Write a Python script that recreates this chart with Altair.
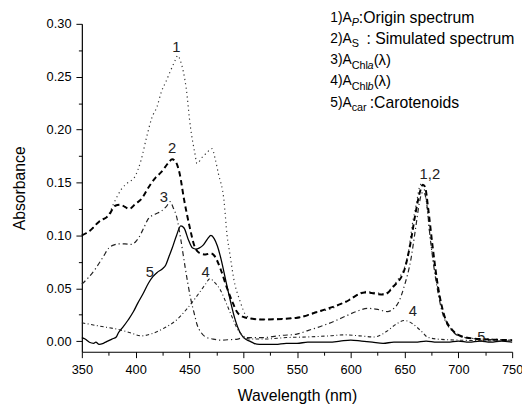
import altair as alt
import pandas as pd

# ---- data ----
wl_origin = [350, 357, 366, 375, 380, 387, 393, 399, 405, 410, 415, 420, 424, 428, 433, 437, 439, 442,
             447, 451, 455, 457, 462, 466, 471, 474, 477, 482, 485, 488, 491, 497, 503, 510, 518, 530,
             549, 570, 580, 595, 605, 613, 622, 631, 640, 645, 650, 654, 657, 661, 664, 666, 668, 670,
             674, 680, 686, 690, 694, 700, 705, 710, 720, 730, 740, 750]
ab_origin = [0.100, 0.104, 0.113, 0.120, 0.131, 0.144, 0.150, 0.155, 0.171, 0.192, 0.211, 0.222, 0.236,
             0.245, 0.257, 0.266, 0.270, 0.264, 0.239, 0.202, 0.178, 0.168, 0.174, 0.178, 0.182, 0.172,
             0.158, 0.134, 0.100, 0.080, 0.060, 0.038, 0.024, 0.021, 0.0205, 0.021, 0.022, 0.028, 0.030,
             0.0375, 0.043, 0.047, 0.046, 0.045, 0.053, 0.060, 0.070, 0.087, 0.109, 0.130, 0.146, 0.149,
             0.145, 0.134, 0.096, 0.055, 0.026, 0.016, 0.011, 0.006, 0.0035, 0.003, 0.002, 0.002, 0.0015,
             0.001]

wl_sim = [350, 357, 366, 375, 381, 386, 390, 394, 400, 405, 413, 418, 424, 430, 434, 437, 441, 445,
          450, 455, 460, 465, 470, 473, 479, 485, 490, 494, 500, 510, 518, 549, 570, 595, 613, 631,
          640, 650, 655, 660, 664, 667, 669, 672, 676, 681, 687, 694, 705, 720, 750]
ab_sim = [0.100, 0.104, 0.113, 0.119, 0.128, 0.129, 0.127, 0.125, 0.130, 0.134, 0.147, 0.154, 0.160,
          0.168, 0.172, 0.170, 0.158, 0.134, 0.109, 0.089, 0.083, 0.082, 0.083, 0.081, 0.068, 0.050,
          0.037, 0.028, 0.023, 0.021, 0.0205, 0.022, 0.028, 0.037, 0.046, 0.044, 0.052, 0.068, 0.090,
          0.120, 0.140, 0.148, 0.146, 0.125, 0.090, 0.052, 0.024, 0.011, 0.004, 0.002, 0.001]

wl_chla = [350, 356, 363, 370, 375, 380, 384, 390, 396, 400, 403, 408, 412, 418, 424, 429, 432, 435,
           438, 442, 446, 451, 455, 457, 461, 465, 472, 479, 488, 495, 500, 518, 536, 549, 560, 573,
           585, 595, 605, 616, 625, 634, 640, 644, 650, 656, 660, 664, 666, 668, 670, 674, 680, 686,
           690, 694, 700, 710, 720, 750]
ab_chla = [0.054, 0.060, 0.069, 0.080, 0.088, 0.091, 0.092, 0.092, 0.0915, 0.094, 0.098, 0.108, 0.116,
           0.120, 0.123, 0.128, 0.132, 0.126, 0.118, 0.096, 0.070, 0.041, 0.024, 0.016, 0.008, 0.004,
           0.002, 0.001, 0.0015, 0.002, 0.0034, 0.0034, 0.0055, 0.0065, 0.010, 0.0143, 0.019, 0.0236,
           0.028, 0.031, 0.030, 0.028, 0.031, 0.036, 0.053, 0.078, 0.105, 0.132, 0.140, 0.141, 0.134,
           0.096, 0.052, 0.024, 0.015, 0.010, 0.005, 0.003, 0.002, 0.001]

wl_chlb = [350, 366, 384, 395, 405, 415, 427, 438, 448, 455, 460, 465, 469, 473, 479, 485, 490, 494,
           500, 506, 520, 540, 560, 580, 595, 608, 622, 630, 634, 642, 650, 655, 662, 667, 671, 680,
           700, 750]
ab_chlb = [0.0174, 0.0143, 0.011, 0.008, 0.005, 0.007, 0.0127, 0.020, 0.031, 0.040, 0.047, 0.054,
           0.059, 0.056, 0.048, 0.034, 0.022, 0.0127, 0.005, 0.002, 0.002, 0.0034, 0.004, 0.005, 0.006,
           0.005, 0.004, 0.007, 0.0097, 0.016, 0.0195, 0.018, 0.0127, 0.008, 0.004, 0.002, 0.001, 0.0]

wl_car = [350, 353, 357, 361, 363, 366, 370, 374, 378, 382, 384, 388, 393, 398, 402, 407, 412, 416,
          420, 425, 428, 431, 434, 438, 442, 445, 449, 453, 456, 459, 463, 467, 470, 473, 476, 480,
          483, 486, 489, 492, 495, 498, 502, 506, 510, 515, 520, 530, 540, 550, 560, 570, 580, 590,
          600, 610, 620, 630, 640, 650, 660, 670, 680, 690, 700, 710, 720, 730, 740, 750]
ab_car = [0.0034, 0.002, -0.001, -0.002, -0.001, -0.003, -0.002, 0.000, 0.002, 0.004, 0.008, 0.013,
          0.020, 0.028, 0.036, 0.045, 0.055, 0.061, 0.065, 0.0685, 0.072, 0.080, 0.088, 0.100, 0.109,
          0.107, 0.096, 0.088, 0.087, 0.088, 0.091, 0.097, 0.100, 0.097, 0.090, 0.075, 0.061, 0.047,
          0.034, 0.022, 0.013, 0.0065, 0.002, 0.000, -0.002, -0.003, -0.003, -0.003, -0.002, -0.002,
          -0.001, -0.001, -0.001, 0.000, 0.001, 0.000, -0.001, -0.002, -0.001, -0.001, -0.001, 0.000,
          -0.001, -0.001, 0.000, -0.001, 0.000, -0.001, 0.000, -0.001]

# curve number labels
lab_text = ["1", "2", "3", "4", "5", "1,2", "4", "5"]
lab_x = [437.9, 433.8, 426.2, 465.0, 413.2, 673.5, 657.8, 721.3]
lab_y = [0.2776, 0.183, 0.1366, 0.0654, 0.0654, 0.158, 0.0288, 0.0034]

# legend text segments (text, x, y, font size, italic)
leg_text = ["1)A", "P", ":Origin spectrum",
            "2)A", "S", ": Simulated spectrum",
            "3)A", "Chl", "a", "(\u03bb)",
            "4)A", "Chl", "b", "(\u03bb)",
            "5)A", "car", ":Carotenoids"]
leg_x = [580.9, 600.8, 607.5,
         580.9, 600.8, 614.5,
         580.9, 600.8, 615.5, 621.3,
         580.9, 600.8, 615.5, 621.3,
         580.9, 600.8, 617.6]
leg_y = [0.3056, 0.3006, 0.3056,
         0.2857, 0.2807, 0.2857,
         0.2656, 0.2604, 0.2604, 0.2656,
         0.2455, 0.2404, 0.2404, 0.2455,
         0.2253, 0.2203, 0.2253]
leg_size = [14, 11, 16,
            14, 11, 16,
            14, 11, 11, 15,
            14, 11, 11, 15,
            14, 11, 16]
leg_italic = [False, True, False,
              False, False, False,
              False, False, True, False,
              False, False, True, False,
              False, False, False]

x_ticks = [350, 375, 400, 425, 450, 475, 500, 525, 550, 575, 600, 625, 650, 675, 700, 725, 750]
y_ticks = [0.0, 0.025, 0.05, 0.075, 0.10, 0.125, 0.15, 0.175, 0.20, 0.225, 0.25, 0.275, 0.30]

FONT = "Liberation Sans"

xscale = alt.Scale(domain=[350, 750], nice=False, zero=False)
yscale = alt.Scale(domain=[-0.01, 0.30], nice=False, zero=False)

xaxis = alt.Axis(values=x_ticks, title="Wavelength (nm)", grid=False, labelFlush=False,
                 labelExpr="datum.value % 50 == 0 ? datum.label : ''",
                 tickSize={"condition": {"test": "datum.value % 50 != 0", "value": 3.5}, "value": 6},
                 labelFont=FONT, labelFontSize=13, titleFont=FONT, titleFontSize=16,
                 titleFontWeight="normal", labelColor="black", titleColor="black",
                 domainColor="black", tickColor="black", domainWidth=1.2, tickWidth=1,
                 labelPadding=6, titlePadding=12, format="d")
yaxis = alt.Axis(values=y_ticks, title="Absorbance", grid=False, labelFlush=False,
                 labelExpr="round(datum.value*1000) % 50 == 0 ? format(datum.value, '.2f') : ''",
                 tickSize={"condition": {"test": "round(datum.value*1000) % 50 != 0", "value": 3.5}, "value": 6},
                 labelFont=FONT, labelFontSize=13, titleFont=FONT, titleFontSize=16,
                 titleFontWeight="normal", labelColor="black", titleColor="black",
                 domainColor="black", tickColor="black", domainWidth=1.2, tickWidth=1,
                 labelPadding=5, titlePadding=19)

XENC = dict(scale=xscale, axis=xaxis)
YENC = dict(scale=yscale, axis=yaxis)


def curve(wl, ab, dash, width, color="black"):
    df = pd.DataFrame({"wl": wl, "ab": ab})
    kw = {}
    if dash:
        kw["strokeDash"] = dash
    m = alt.Chart(df).mark_line(color=color, strokeWidth=width, interpolate="monotone", **kw)
    return m.encode(x=alt.X("wl:Q", **XENC), y=alt.Y("ab:Q", **YENC))


c5 = curve(wl_car, ab_car, None, 1.3)
c4 = curve(wl_chlb, ab_chlb, [3.5, 2.5, 1, 2.5], 1.1, color="#222222")
c3 = curve(wl_chla, ab_chla, [5, 3, 1.2, 3], 1.2, color="#222222")
c1 = curve(wl_origin, ab_origin, [1.2, 3.3], 1.2, color="#333333")
c2 = curve(wl_sim, ab_sim, [5.5, 3.5], 2.0)

labels_df = pd.DataFrame({"t": lab_text, "wl": lab_x, "ab": lab_y})
labels = alt.Chart(labels_df).mark_text(font=FONT, fontSize=15, color="#222222",
                                        align="center", baseline="middle").encode(
    x=alt.X("wl:Q", **XENC),
    y=alt.Y("ab:Q", **YENC),
    text="t:N",
)

leg_df = pd.DataFrame({"t": leg_text, "wl": leg_x, "ab": leg_y, "s": leg_size, "it": leg_italic})


def leg_layer(italic):
    d = leg_df[leg_df["it"] == italic]
    return alt.Chart(d).mark_text(font=FONT, color="black", align="left", baseline="middle",
                                  fontStyle="italic" if italic else "normal").encode(
        x=alt.X("wl:Q", **XENC),
        y=alt.Y("ab:Q", **YENC),
        text="t:N",
        size=alt.Size("s:Q", scale=None, legend=None),
    )


chart = alt.layer(c5, c4, c3, c1, c2, labels, leg_layer(False), leg_layer(True)).properties(
    width=437, height=333,
    autosize=alt.AutoSizeParams(type="none"),
    padding={"left": 75, "top": 13, "right": 10, "bottom": 52},
    background="white",
).configure_view(stroke=None)

chart.save("out.html", embed_options={"renderer": "svg", "actions": False})
